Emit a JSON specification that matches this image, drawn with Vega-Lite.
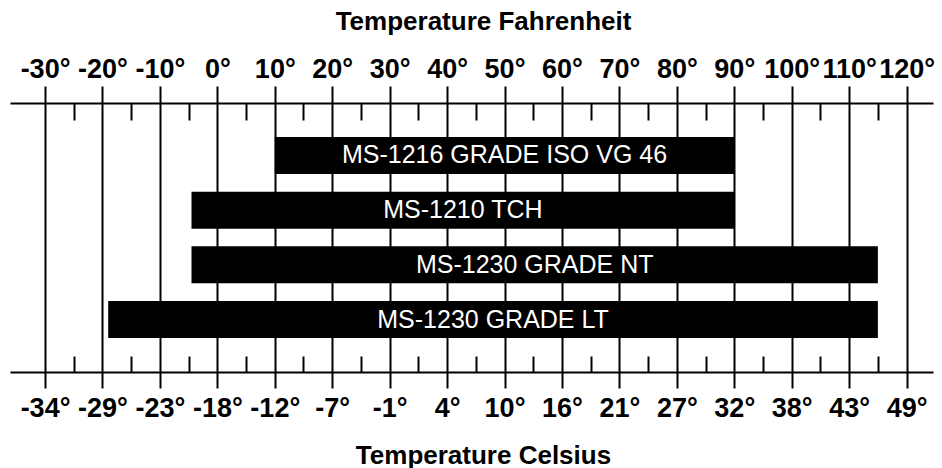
{
  "$schema": "https://vega.github.io/schema/vega-lite/v6.json",
  "width": 923,
  "height": 269,
  "autosize": {"type": "none"},
  "padding": {"left": 10, "right": 9, "top": 103, "bottom": 96},
  "background": "white",
  "config": {"view": {"stroke": null}},
  "data": {
    "values": [
      {"name": "MS-1216 GRADE ISO VG 46", "lo": 10, "hi": 90},
      {"name": "MS-1210 TCH", "lo": -4.5, "hi": 90},
      {"name": "MS-1230 GRADE NT", "lo": -4.5, "hi": 115},
      {"name": "MS-1230 GRADE LT", "lo": -19, "hi": 115}
    ]
  },
  "resolve": {"axis": {"x": "independent"}},
  "layer": [
    {
      "mark": {"type": "bar", "color": "black", "cornerRadius": 0},
      "encoding": {
        "y": {
          "field": "name", "type": "nominal", "sort": null,
          "scale": {"paddingInner": 0.324, "paddingOuter": 0.621},
          "axis": null
        },
        "x": {
          "field": "lo", "type": "quantitative",
          "scale": {"domain": [-36.1, 124.6], "nice": false, "zero": false},
          "axis": {
            "orient": "top",
            "values": [-30,-25,-20,-15,-10,-5,0,5,10,15,20,25,30,35,40,45,50,55,60,65,70,75,80,85,90,95,100,105,110,115,120],
            "labelExpr": "datum.value % 10 === 0 ? datum.value + '°' : ''",
            "labelOverlap": false,
            "labelFlush": false,
            "labelBound": false,
            "labelFont": "Liberation Sans",
            "labelFontWeight": "bold",
            "labelFontSize": 27,
            "labelColor": "black",
            "labelBaseline": "alphabetic",
            "labelPadding": 9,
            "tickSize": {"condition": {"test": "datum.value % 10 !== 0", "value": -17}, "value": 17},
            "tickWidth": 2,
            "tickColor": "black",
            "tickCap": "butt",
            "domain": true,
            "domainColor": "black",
            "domainWidth": 2,
            "grid": true,
            "gridColor": "black",
            "gridWidth": 2,
            "gridOpacity": {"condition": {"test": "datum.value % 10 !== 0", "value": 0}, "value": 1},
            "title": "Temperature Fahrenheit",
            "titleFont": "Liberation Sans",
            "titleFontWeight": "bold",
            "titleFontSize": 26,
            "titleColor": "black",
            "titleAlign": "center",
            "titleBaseline": "alphabetic",
            "titleX": 473,
            "titleY": -73.5
          }
        },
        "x2": {"field": "hi"}
      }
    },
    {
      "transform": [{"calculate": "(datum.lo + datum.hi) / 2", "as": "mid"}],
      "mark": {
        "type": "text", "color": "white", "font": "Liberation Sans",
        "fontSize": 25, "align": "center", "baseline": "middle"
      },
      "encoding": {
        "y": {"field": "name", "type": "nominal", "sort": null},
        "text": {"field": "name"},
        "x": {
          "field": "mid", "type": "quantitative",
          "axis": {
            "orient": "bottom",
            "values": [-30,-25,-20,-15,-10,-5,0,5,10,15,20,25,30,35,40,45,50,55,60,65,70,75,80,85,90,95,100,105,110,115,120],
            "labelExpr": "datum.value % 10 === 0 ? round((datum.value - 32) * 5 / 9) + '°' : ''",
            "labelOverlap": false,
            "labelFlush": false,
            "labelBound": false,
            "labelFont": "Liberation Sans",
            "labelFontWeight": "bold",
            "labelFontSize": 27,
            "labelColor": "black",
            "labelBaseline": "alphabetic",
            "labelPadding": 28,
            "tickSize": {"condition": {"test": "datum.value % 10 !== 0", "value": -16}, "value": 16},
            "tickWidth": 2,
            "tickColor": "black",
            "tickCap": "butt",
            "domain": true,
            "domainColor": "black",
            "domainWidth": 2,
            "grid": false,
            "title": "Temperature Celsius",
            "titleFont": "Liberation Sans",
            "titleFontWeight": "bold",
            "titleFontSize": 26,
            "titleColor": "black",
            "titleAlign": "center",
            "titleBaseline": "alphabetic",
            "titleX": 473,
            "titleY": 91
          }
        }
      }
    }
  ]
}
